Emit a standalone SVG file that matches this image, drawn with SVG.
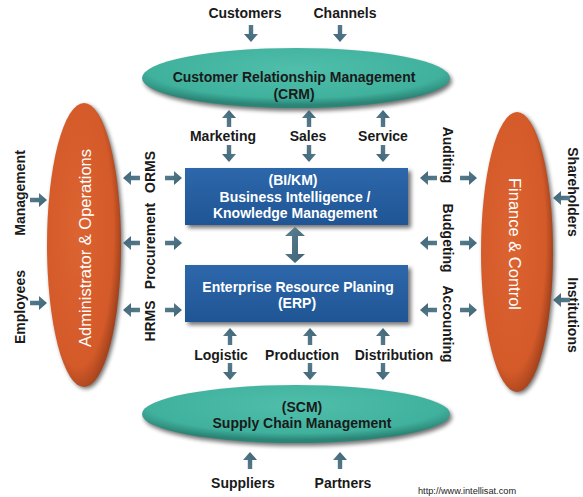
<svg xmlns="http://www.w3.org/2000/svg" xmlns:xlink="http://www.w3.org/1999/xlink" width="583" height="497" viewBox="0 0 583 497">
<defs>
<radialGradient id="gTeal" cx="0.5" cy="0.35" r="0.6">
<stop offset="0" stop-color="#4fbfab"/><stop offset="0.8" stop-color="#40b19d"/><stop offset="1" stop-color="#2b8576"/>
</radialGradient>
<radialGradient id="gOrange" cx="0.42" cy="0.45" r="0.6">
<stop offset="0" stop-color="#dc6431"/><stop offset="0.8" stop-color="#d45a29"/><stop offset="1" stop-color="#9c3f1b"/>
</radialGradient>
<linearGradient id="gBlue" x1="0" y1="0" x2="0" y2="1">
<stop offset="0" stop-color="#2d67ab"/><stop offset="1" stop-color="#1f5594"/>
</linearGradient>
<linearGradient id="gArrow" x1="0" y1="0" x2="1" y2="1">
<stop offset="0" stop-color="#5b8192"/><stop offset="1" stop-color="#3d6273"/>
</linearGradient>
<filter id="sh" x="-20%" y="-20%" width="140%" height="150%">
<feGaussianBlur stdDeviation="2"/>
</filter>
<path id="arr" d="M-17,-2.2 L-8,-2.2 L-8,-7 L0,0 L-8,7 L-8,2.2 L-17,2.2 Z"/>
<path id="darr" d="M-3,-9 L-10,-9 L0,-18 L10,-9 L3,-9 L3,9 L10,9 L0,18 L-10,9 L-3,9 Z"/>
</defs>
<style>
.lbl{font-family:"Liberation Sans",Arial,sans-serif;font-weight:bold;font-size:14px;fill:#1a1a1a;text-anchor:middle}
.wht{font-family:"Liberation Sans",Arial,sans-serif;font-weight:bold;font-size:14px;fill:#ffffff;text-anchor:middle}
.ov{font-family:"Liberation Sans",Arial,sans-serif;font-size:16.5px;fill:#ffffff;text-anchor:middle}
.a{fill:url(#gArrow)}
.shd{fill:#000;opacity:0.55;filter:url(#sh)}
</style>
<rect width="583" height="497" fill="#ffffff"/>

<g id="crm">
<ellipse class="shd" cx="298" cy="81" rx="154" ry="30"/>
<ellipse cx="296" cy="78" rx="154" ry="30" fill="url(#gTeal)"/>
<text class="lbl" x="294" y="82">Customer Relationship Management</text>
<text class="lbl" x="294" y="99">(CRM)</text>
</g>

<g id="scm">
<ellipse class="shd" cx="298" cy="417" rx="154" ry="29"/>
<ellipse cx="296" cy="414" rx="154" ry="29" fill="url(#gTeal)"/>
<text class="lbl" x="302" y="412">(SCM)</text>
<text class="lbl" x="302" y="428">Supply Chain Management</text>
</g>

<g id="admin">
<ellipse class="shd" cx="86" cy="247" rx="37" ry="142"/>
<ellipse cx="84" cy="245" rx="37" ry="142" fill="url(#gOrange)"/>
<text class="ov" transform="translate(85,248) rotate(-90)" dy="6">Administrator &amp; Operations</text>
</g>

<g id="finance">
<ellipse class="shd" cx="519" cy="254" rx="36" ry="140"/>
<ellipse cx="517" cy="252" rx="36" ry="140" fill="url(#gOrange)"/>
<text class="ov" transform="translate(515,244) rotate(90)" dy="6">Finance &amp; Control</text>
</g>

<g id="bikm">
<rect class="shd" x="188" y="171" width="223" height="57"/>
<rect x="185" y="168" width="223" height="57" fill="url(#gBlue)"/>
<text class="wht" x="293" y="185">(BI/KM)</text>
<text class="wht" x="295" y="202">Business Intelligence /</text>
<text class="wht" x="295" y="218">Knowledge Management</text>
</g>

<g id="erp">
<rect class="shd" x="188" y="268" width="223" height="57"/>
<rect x="185" y="265" width="223" height="57" fill="url(#gBlue)"/>
<text class="wht" x="298" y="292">Enterprise Resource Planing</text>
<text class="wht" x="297" y="308">(ERP)</text>
</g>

<g id="labels">
<text class="lbl" x="245" y="18">Customers</text>
<text class="lbl" x="345" y="18">Channels</text>
<text class="lbl" x="223" y="141">Marketing</text>
<text class="lbl" x="308" y="141">Sales</text>
<text class="lbl" x="383" y="141">Service</text>
<text class="lbl" x="221" y="360">Logistic</text>
<text class="lbl" x="302" y="360">Production</text>
<text class="lbl" x="394" y="360">Distribution</text>
<text class="lbl" x="243" y="488">Suppliers</text>
<text class="lbl" x="343" y="488">Partners</text>
<text class="lbl" transform="translate(20,193) rotate(-90)" dy="5">Management</text>
<text class="lbl" transform="translate(20,307) rotate(-90)" dy="5">Employees</text>
<text class="lbl" transform="translate(150,172) rotate(-90)" dy="5">ORMS</text>
<text class="lbl" transform="translate(150,246) rotate(-90)" dy="5">Procurement</text>
<text class="lbl" transform="translate(150,321) rotate(-90)" dy="5">HRMS</text>
<text class="lbl" transform="translate(448,155) rotate(90)" dy="5">Auditing</text>
<text class="lbl" transform="translate(448,238) rotate(90)" dy="5">Budgeting</text>
<text class="lbl" transform="translate(448,324) rotate(90)" dy="5">Accounting</text>
<text class="lbl" transform="translate(573,192) rotate(90)" dy="5">Shareholders</text>
<text class="lbl" transform="translate(573,315) rotate(90)" dy="5">Institutions</text>
<text x="418" y="494" font-family="Liberation Sans, Arial, sans-serif" font-size="9.2" fill="#222">http://www.intellisat.com</text>
</g>

<g id="connectors" class="a">
<use xlink:href="#arr" transform="translate(251,42) rotate(90)"/>
<use xlink:href="#arr" transform="translate(340,42) rotate(90)"/>
<use xlink:href="#arr" transform="translate(229,110) rotate(-90)"/>
<use xlink:href="#arr" transform="translate(309,110) rotate(-90)"/>
<use xlink:href="#arr" transform="translate(383,110) rotate(-90)"/>
<use xlink:href="#arr" transform="translate(229,162) rotate(90)"/>
<use xlink:href="#arr" transform="translate(309,162) rotate(90)"/>
<use xlink:href="#arr" transform="translate(383,162) rotate(90)"/>
<use xlink:href="#arr" transform="translate(230,328) rotate(-90)"/>
<use xlink:href="#arr" transform="translate(310,328) rotate(-90)"/>
<use xlink:href="#arr" transform="translate(383,328) rotate(-90)"/>
<use xlink:href="#arr" transform="translate(230,380) rotate(90)"/>
<use xlink:href="#arr" transform="translate(310,380) rotate(90)"/>
<use xlink:href="#arr" transform="translate(383,380) rotate(90)"/>
<use xlink:href="#arr" transform="translate(250,452) rotate(-90)"/>
<use xlink:href="#arr" transform="translate(340,452) rotate(-90)"/>
<use xlink:href="#arr" transform="translate(47,200)"/>
<use xlink:href="#arr" transform="translate(47,303)"/>
<use xlink:href="#arr" transform="translate(123,178) rotate(180)"/>
<use xlink:href="#arr" transform="translate(123,243) rotate(180)"/>
<use xlink:href="#arr" transform="translate(123,310) rotate(180)"/>
<use xlink:href="#arr" transform="translate(182,178)"/>
<use xlink:href="#arr" transform="translate(182,243)"/>
<use xlink:href="#arr" transform="translate(182,310)"/>
<use xlink:href="#arr" transform="translate(420,178) rotate(180)"/>
<use xlink:href="#arr" transform="translate(420,243) rotate(180)"/>
<use xlink:href="#arr" transform="translate(420,310) rotate(180)"/>
<use xlink:href="#arr" transform="translate(477,178)"/>
<use xlink:href="#arr" transform="translate(477,243)"/>
<use xlink:href="#arr" transform="translate(477,310)"/>
<use xlink:href="#arr" transform="translate(553,198) rotate(180)"/>
<use xlink:href="#arr" transform="translate(553,300) rotate(180)"/>
<use xlink:href="#darr" transform="translate(295,245)"/>
</g>
</svg>
